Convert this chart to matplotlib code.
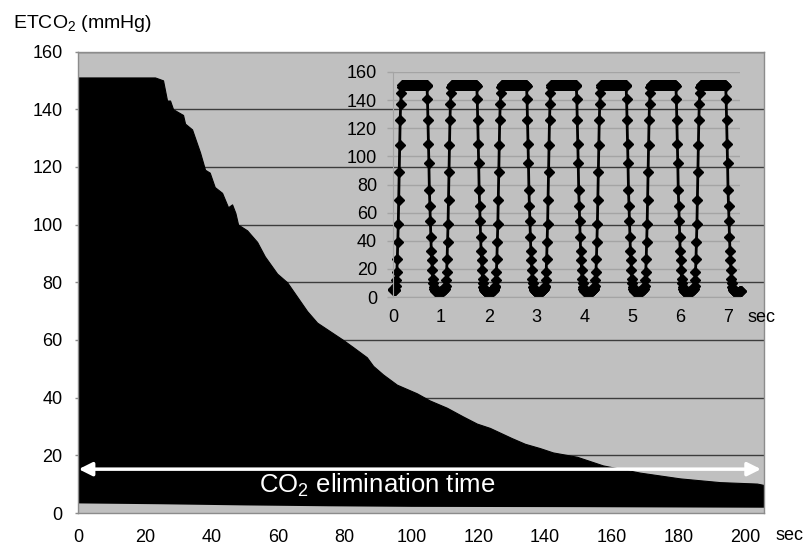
import numpy as np
import matplotlib
matplotlib.use("Agg")
import matplotlib.pyplot as plt

plt.rcParams['font.family'] = ['Liberation Sans', 'DejaVu Sans']
plt.rcParams['mathtext.fontset'] = 'custom'
plt.rcParams['mathtext.rm'] = 'Liberation Sans'
plt.rcParams['mathtext.default'] = 'regular'

# main trace: upper edge of the black band (sec, mmHg)
up_t = [0, 23.1, 25.5, 26.7, 27.6, 28.5, 31.5, 32.1, 34.2, 36.6, 38.1, 39.5, 41, 43.2,
        45, 46.2, 47.2, 48, 50.7, 53.7, 56, 59.7, 62.7, 65.7, 68.7, 71.7, 75.6, 79.5,
        82.5, 86.6, 88.5, 91.5, 95.6, 101.6, 105.5, 110.6, 115.4, 119.6, 123.5, 130,
        134, 138.5, 142.4, 149.6, 157.4, 168.5, 180.5, 192.5, 203.6, 205.7]
up_v = [151, 151, 150, 143, 143, 140, 138, 135, 133, 125, 119, 118, 113, 111,
        106, 107, 104, 100, 98, 94, 89, 83, 80, 75, 70, 66, 63, 60,
        57.5, 54, 51, 48, 44.5, 41.5, 39, 36.5, 33.5, 31, 29.5, 26,
        24, 22.5, 21, 19.5, 16.5, 14, 12, 10.7, 10.2, 9.7]
# lower edge of the band
low_t = [0, 25, 50, 75, 100, 150, 205.7]
low_v = [3.5, 3.2, 2.8, 2.5, 2.3, 2.2, 2.0]

main_yticks = [0, 20, 40, 60, 80, 100, 120, 140, 160]
main_xticks = [0, 20, 40, 60, 80, 100, 120, 140, 160, 180, 200]

# inset: one breath (samples every 0.01 s)
lead = [6, 5, 5, 5, 5, 5]
rise = [8, 12, 18, 27, 39, 52, 69, 89, 108, 126, 137, 145, 149, 151]
plateau_level = 151
plateau_len = 51
fall = [150, 141, 126, 109, 95, 76, 65, 54, 43, 33, 26, 19, 13, 10, 7]
trough = [6, 5, 4.5, 4, 4, 3.5, 3.5, 3.5, 3.5, 3.5, 3.5, 3.5, 3.5, 3.5,
          4, 4, 4, 4.5, 4.5, 5, 5, 5.5, 6, 7]
n_breaths = 7
dt = 0.01
inset_yticks = [0, 20, 40, 60, 80, 100, 120, 140, 160]
inset_xticks = [0, 1, 2, 3, 4, 5, 6, 7]

wave = list(lead)
for i in range(n_breaths):
    wave += rise + [plateau_level] * plateau_len + fall
    wave += trough if i < n_breaths - 1 else trough[:19]
wave = np.array(wave, dtype=float)
wave_t = np.arange(len(wave)) * dt

bg = '#c0c0c0'
edge = '#8c8c8c'
fs = 13

fig = plt.figure(figsize=(8.12, 5.56), dpi=100)
ax = fig.add_axes([78 / 812, 1 - 513 / 556, 686 / 812, 461.5 / 556])
ax.set_facecolor(bg)
ax.fill_between(up_t, 0, up_v, color='black', lw=0.8, edgecolor='black')
ax.fill_between(low_t, 0, low_v, color=bg, lw=0)
ax.set_xlim(0, 205.7)
ax.set_ylim(0, 160)
ax.set_yticks(main_yticks)
ax.set_xticks(main_xticks)
ax.set_axisbelow(True)
ax.grid(axis='y', color='#3c3c3c', lw=1.0)
ax.grid(axis='x', visible=False)
for s in ax.spines.values():
    s.set_color(edge)
    s.set_linewidth(1.0)
ax.tick_params(axis='y', length=2.5, width=1, color=edge, pad=8.5, labelsize=fs)
ax.tick_params(axis='x', length=0, pad=11.5, labelsize=fs)

ax.annotate('', xy=(0.2, 15.2), xytext=(204.8, 15.2),
            arrowprops=dict(arrowstyle='<|-|>', color='white', lw=2.5,
                            mutation_scale=20, shrinkA=0, shrinkB=0))
ax.text(89.7, 6.9, 'CO$_2$ elimination time', color='white', fontsize=18.5,
        ha='center', va='baseline')

fig.text(13 / 812, 1 - 28 / 556, 'ETCO$_2$ (mmHg)', fontsize=14, va='baseline')
fig.text(790 / 812, 1 - 535.5 / 556, 'sec', fontsize=fs, ha='center', va='center')

# inset
ax2 = fig.add_axes([393 / 812, 1 - 297 / 556, 347 / 812, 225 / 556])
ax2.set_facecolor('none')
ax2.plot(wave_t, wave, color='black', lw=2.0, marker='D', ms=5, clip_on=False)
ax2.set_xlim(0, 7.25)
ax2.set_ylim(0, 160)
ax2.set_yticks(inset_yticks)
ax2.set_xticks(inset_xticks)
ax2.set_axisbelow(True)
ax2.grid(axis='y', color='#a4a4a4', lw=1.0)
ax2.grid(axis='x', visible=False)
for k in ['top', 'right']:
    ax2.spines[k].set_visible(False)
ax2.spines['left'].set_color('#a4a4a4')
ax2.spines['bottom'].set_color('#a4a4a4')
ax2.tick_params(axis='y', length=4, width=1, color='#a4a4a4', pad=7.5, labelsize=fs)
ax2.tick_params(axis='x', length=0, pad=8.5, labelsize=fs)
fig.text(762 / 812, 1 - 317 / 556, 'sec', fontsize=fs, ha='center', va='center')

fig.savefig('out.png', dpi=100)
